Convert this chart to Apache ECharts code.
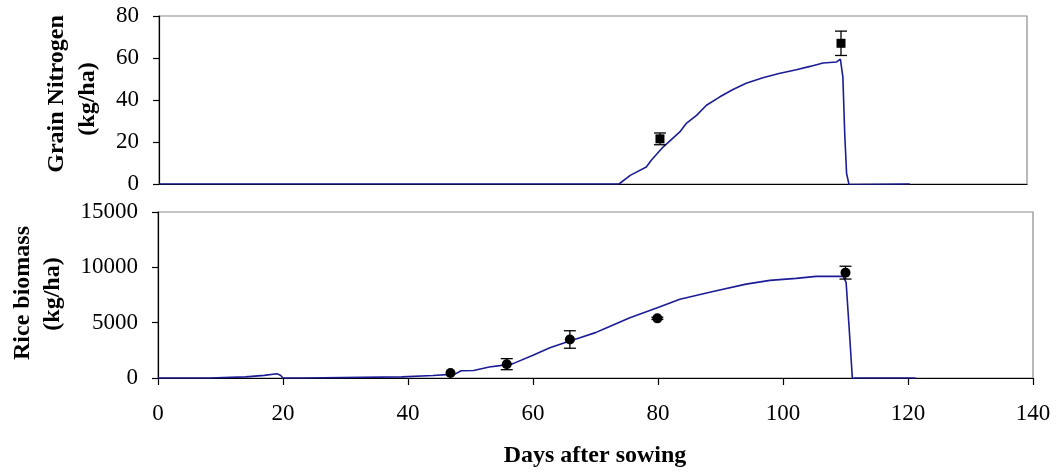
<!DOCTYPE html>
<html>
<head>
<meta charset="utf-8">
<script src="https://cdn.jsdelivr.net/npm/echarts@6/dist/echarts.min.js"></script>
<style>
html,body{margin:0;padding:0;background:#fff;}
#chart{width:1056px;height:472px;}
</style>
</head>
<body>
<div id="chart"></div>
<script>
// ---- Data ----
// Simulated grain nitrogen (kg/ha): [day, value]
var grainNSim = [[0,0],[74.2,0],[76,4.1],[78.6,8.1],[79.4,11.3],[81.3,17.6],[84,24.8],[85.1,29],[86.7,32.7],[88.3,37.5],[90.4,41.4],[92.5,44.9],[94.7,48],[97.4,50.6],[100,52.6],[102.8,54.4],[105,56],[107.1,57.6],[109.3,58.1],[109.9,59.5],[110.3,51],[110.6,24],[110.9,5],[111.3,-0.3],[111.6,0],[121.1,0]];
// Observed grain nitrogen: [day, mean, error]
var grainNObs = [[80.8,21.5,2.8],[110,67,5.8]];
// Simulated rice biomass (kg/ha): [day, value]
var biomassSim = [[0,0],[8.2,0],[8.4,100],[14,100],[14.3,240],[17,240],[17.3,380],[19,380],[19.6,250],[20,0],[23.2,0],[23.4,100],[39,100],[39.3,230],[44,230],[44.3,350],[47.5,350],[48.5,650],[50.5,680],[53,1000],[54.7,1120],[56.8,1300],[60,2060],[62.7,2730],[65.3,3240],[67.5,3640],[70,4100],[71.8,4545],[75.5,5450],[80,6360],[83.5,7120],[88.8,7820],[94.1,8480],[97.9,8820],[102.1,9000],[105.3,9180],[109.6,9180],[110.1,8640],[110.7,3500],[111.1,-60],[111.5,0],[121.2,0]];
// Observed rice biomass: [day, mean, error]
var biomassObs = [[46.8,450,0],[55.8,1250,500],[65.9,3480,790],[79.9,5390,100],[110,9520,580]];
// Axis settings
var xTicks = {min:0, max:140, interval:20};
var grainTicks = {min:0, max:80, interval:20};
var biomassTicks = {min:0, max:15000, interval:5000};
var xTitle = 'Days after sowing';
var topTitle = ['Grain Nitrogen','(kg/ha)'];
var botTitle = ['Rice biomass','(kg/ha)'];

var chart = echarts.init(document.getElementById('chart'), null, {renderer:'canvas'});
var FONT = '"Liberation Serif","Times New Roman",serif';
var lineColor = '#1c1c96';

function errRender(params, api){
  var x = api.value(0), y = api.value(1), e = api.value(2);
  if (!e) return null;
  var hi = api.coord([x, y + e]);
  var lo = api.coord([x, y - e]);
  var hw = 6;
  var st = {stroke:'#000', lineWidth:1.3};
  return {type:'group', children:[
    {type:'line', shape:{x1:hi[0],y1:hi[1],x2:lo[0],y2:lo[1]}, style:st},
    {type:'line', shape:{x1:hi[0]-hw,y1:hi[1],x2:hi[0]+hw,y2:hi[1]}, style:st},
    {type:'line', shape:{x1:lo[0]-hw,y1:lo[1],x2:lo[0]+hw,y2:lo[1]}, style:st}
  ]};
}

function plain(v){ return String(v); }
var yLabel = {color:'#000', fontSize:23, fontFamily:FONT, margin:20, formatter:plain};
var axLine = {show:true, lineStyle:{color:'#000', width:1.2}};
var titleFont = 'bold 24px ' + FONT;

var option = {
  backgroundColor:'#fff',
  animation:false,
  grid:[
    {left:159, top:16, width:868, height:168, show:true, borderColor:'#8a8a8a', borderWidth:1.2, backgroundColor:'transparent'},
    {left:158, top:212, width:875, height:166, show:true, borderColor:'#8a8a8a', borderWidth:1.2, backgroundColor:'transparent'}
  ],
  xAxis:[
    {gridIndex:0, type:'value', min:xTicks.min, max:xTicks.max, interval:xTicks.interval,
     axisLine:axLine, axisTick:{show:false}, axisLabel:{show:false}, splitLine:{show:false}},
    {gridIndex:1, type:'value', min:xTicks.min, max:xTicks.max, interval:xTicks.interval,
     axisLine:axLine, axisTick:{show:true, length:7, lineStyle:{color:'#000', width:1.2}},
     axisLabel:{color:'#000', fontSize:23, fontFamily:FONT, margin:24, formatter:plain}, splitLine:{show:false}}
  ],
  yAxis:[
    {gridIndex:0, type:'value', min:grainTicks.min, max:grainTicks.max, interval:grainTicks.interval,
     axisLine:axLine, axisTick:{show:true, length:6, lineStyle:{color:'#000', width:1.2}},
     axisLabel:yLabel, splitLine:{show:false}},
    {gridIndex:1, type:'value', min:biomassTicks.min, max:biomassTicks.max, interval:biomassTicks.interval,
     axisLine:axLine, axisTick:{show:true, length:6, lineStyle:{color:'#000', width:1.2}},
     axisLabel:yLabel, splitLine:{show:false}}
  ],
  graphic:[
    {type:'text', x:57, y:94, rotation:Math.PI/2, style:{text:topTitle[0], font:titleFont, fill:'#000', textAlign:'center', textVerticalAlign:'middle'}},
    {type:'text', x:88, y:99, rotation:Math.PI/2, style:{text:topTitle[1], font:titleFont, fill:'#000', textAlign:'center', textVerticalAlign:'middle'}},
    {type:'text', x:23, y:293, rotation:Math.PI/2, style:{text:botTitle[0], font:titleFont, fill:'#000', textAlign:'center', textVerticalAlign:'middle'}},
    {type:'text', x:53, y:294, rotation:Math.PI/2, style:{text:botTitle[1], font:titleFont, fill:'#000', textAlign:'center', textVerticalAlign:'middle'}},
    {type:'text', x:595, y:456, style:{text:xTitle, font:titleFont, fill:'#000', textAlign:'center', textVerticalAlign:'middle'}}
  ],
  series:[
    {type:'line', xAxisIndex:0, yAxisIndex:0, data:grainNSim, showSymbol:false, symbol:'none',
     lineStyle:{color:lineColor, width:1.6}, z:2},
    {type:'custom', xAxisIndex:0, yAxisIndex:0, data:grainNObs, renderItem:errRender, z:3},
    {type:'scatter', xAxisIndex:0, yAxisIndex:0, data:grainNObs.map(function(d){return [d[0],d[1]];}),
     symbol:'rect', symbolSize:9, itemStyle:{color:'#000', opacity:1}, z:4},
    {type:'line', xAxisIndex:1, yAxisIndex:1, data:biomassSim, showSymbol:false, symbol:'none',
     lineStyle:{color:lineColor, width:1.6}, z:2},
    {type:'custom', xAxisIndex:1, yAxisIndex:1, data:biomassObs, renderItem:errRender, z:3},
    {type:'scatter', xAxisIndex:1, yAxisIndex:1, data:biomassObs.map(function(d){return [d[0],d[1]];}),
     symbol:'circle', symbolSize:10, itemStyle:{color:'#000', opacity:1}, z:4}
  ]
};
chart.setOption(option);
</script>
</body>
</html>
